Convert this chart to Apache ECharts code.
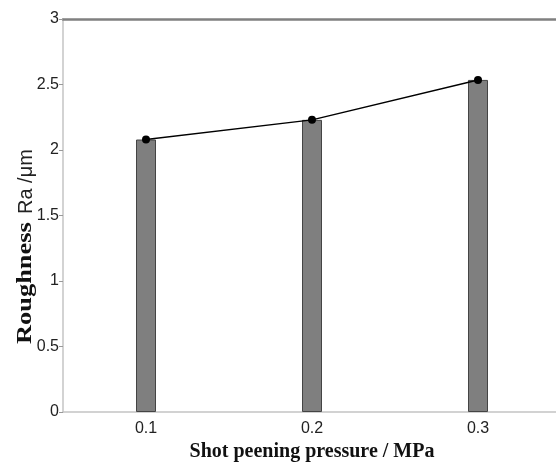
<!DOCTYPE html>
<html>
<head>
<meta charset="utf-8">
<script src="https://cdn.jsdelivr.net/npm/echarts@6/dist/echarts.min.js"></script>
<style>html,body{margin:0;padding:0;background:#fff;}#c{width:556px;height:462px;}</style>
</head>
<body>
<div id="c"></div>
<script>
const categories = ['0.1', '0.2', '0.3'];
const roughness = [2.08, 2.23, 2.535];
const yTicks = [0, 0.5, 1, 1.5, 2, 2.5, 3];

const chart = echarts.init(document.getElementById('c'), null, {renderer: 'canvas'});
chart.setOption({
  animation: false,
  backgroundColor: '#ffffff',
  grid: {left: 63, top: 19, bottom: 50, right: -5, containLabel: false, outerBoundsMode: 'none'},
  xAxis: [{
    type: 'category',
    data: categories,
    position: 'bottom',
    axisLine: {lineStyle: {color: '#c4c4c4', width: 1.5}},
    axisTick: {show: false},
    axisLabel: {fontFamily: 'Liberation Sans', fontSize: 16, color: '#222', margin: 9},
    name: 'Shot peening pressure / MPa',
    nameLocation: 'middle',
    nameGap: 26,
    nameTextStyle: {fontFamily: 'Liberation Serif', fontWeight: 'bold', fontSize: 20, color: '#111'}
  }, {
    type: 'category',
    data: categories,
    position: 'top',
    axisLine: {lineStyle: {color: '#808080', width: 2.5}},
    axisTick: {show: false},
    axisLabel: {show: false}
  }],
  yAxis: {
    type: 'value',
    min: yTicks[0],
    max: yTicks[yTicks.length - 1],
    interval: 0.5,
    axisLine: {show: true, lineStyle: {color: '#c4c4c4', width: 1.5}},
    axisTick: {show: true, length: 4, lineStyle: {color: '#999'}},
    splitLine: {show: false},
    axisLabel: {fontFamily: 'Liberation Sans', fontSize: 16, color: '#222', margin: 4}
  },
  graphic: [{
    type: 'text',
    x: 14,
    y: 344,
    rotation: Math.PI / 2,
    scaleX: 1.2,
    style: {
      text: 'Roughness',
      fontFamily: 'Liberation Serif', fontWeight: 'bold', fontSize: 22, fill: '#111',
      textVerticalAlign: 'top'
    }
  }, {
    type: 'text',
    x: 16,
    y: 214,
    rotation: Math.PI / 2,
    style: {
      text: 'Ra /μm',
      fontFamily: 'Liberation Sans', fontSize: 20, fill: '#222',
      textVerticalAlign: 'top'
    }
  }],
  series: [{
    type: 'bar',
    data: roughness,
    barWidth: 20,
    itemStyle: {color: '#7f7f7f', borderColor: '#444', borderWidth: 1}
  }, {
    type: 'line',
    data: roughness,
    symbol: 'circle',
    symbolSize: 8,
    itemStyle: {color: '#000'},
    lineStyle: {color: '#000', width: 1.5},
    z: 5
  }]
});
</script>
</body>
</html>
